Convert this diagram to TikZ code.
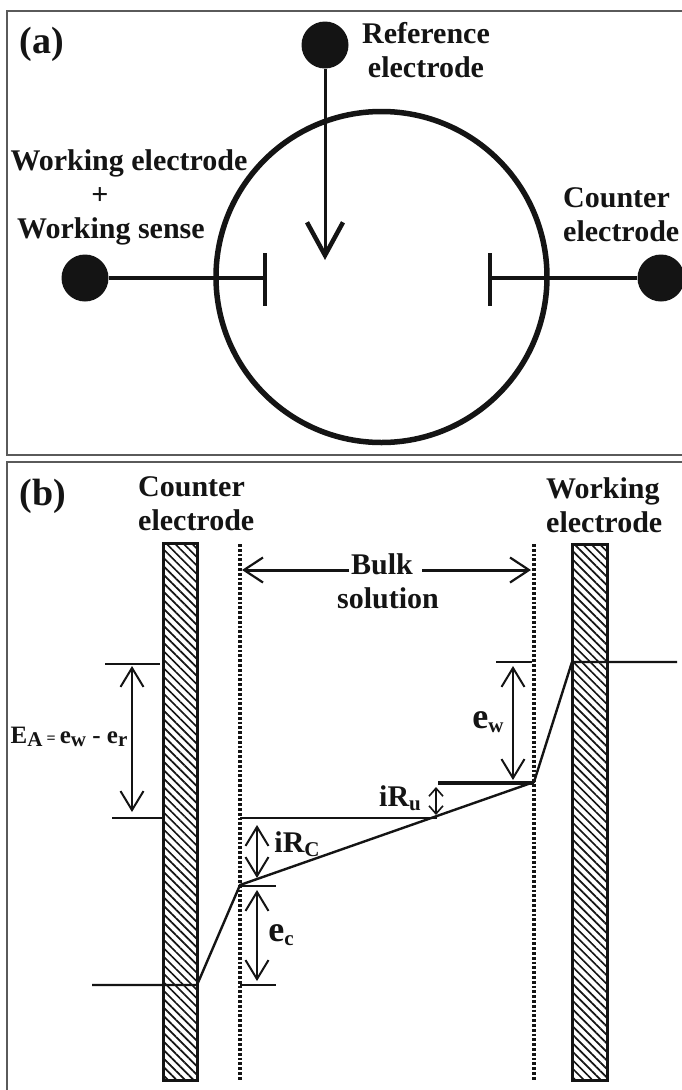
\documentclass[tikz,border=0pt]{standalone}
\usepackage{fontspec}
\setmainfont{Liberation Serif}
\usetikzlibrary{arrows.meta,patterns.meta}
\definecolor{inkblack}{RGB}{20,20,20}
\definecolor{framegray}{RGB}{90,90,90}
\newcommand{\lowtxt}[1]{\raisebox{-0.12em}{\fontsize{21}{21}\selectfont #1}}

\begin{document}
\begin{tikzpicture}[x=1pt, y=-1pt, inkblack,
    label/.style={font=\fontsize{30}{34}\selectfont\bfseries, align=center, inner sep=0pt},
    dot/.style={circle, fill=inkblack, draw=none, minimum size=47pt, inner sep=0pt},
    bigbarb/.style={-{Straight Barb[length=33pt, width=36pt, line width=4.5pt]}, line width=3pt},
    levelbar/.style={line width=2.8pt},
    dimarrow/.style={{Straight Barb[length=19pt, width=23pt, line width=2pt]}-{Straight Barb[length=19pt, width=23pt, line width=2pt]}, line width=1.8pt},
    bulkarrow/.style={-{Straight Barb[length=19pt, width=25pt, line width=2.2pt]}, line width=3pt},
    wall/.style={draw=inkblack, line width=3pt, pattern={Lines[angle=-45, distance=6pt, line width=1.7pt]}, pattern color=inkblack},
    bulkline/.style={line width=3.6pt, dash pattern=on 2.8pt off 2pt}]
  \useasboundingbox (0,0) rectangle (682,1090);
  \fill[white] (0,0) rectangle (682,1090);

  % Panel frames
  \draw[framegray, line width=1.2pt] (682,11) -- (7,11) -- (7,455) -- (682,455);
  \draw[framegray, line width=1.2pt] (682,462) -- (7,462) -- (7,1090);

  % (a) cell
  \node[label, font=\fontsize{38}{38}\selectfont\bfseries] (tagA) at (42,44) {(a)};
  \node[circle, draw, line width=5.5pt, minimum size=331pt, inner sep=0pt] (cell) at (381.5,277) {};
  \node[dot] (refdot) at (325,45) {};
  \node[dot] (workdot) at (85,278) {};
  \node[dot] (countdot) at (661,278) {};
  \coordinate (reftip) at (325,260);
  \coordinate (workend) at (265,278);
  \coordinate (countend) at (490,278);
  \draw[bigbarb] (refdot) -- (reftip);
  \draw[line width=3.6pt] (workdot) -- (workend);
  \draw[line width=3.6pt] (countdot) -- (countend);
  \draw[line width=3.4pt] (265,253) -- (265,306);
  \draw[line width=3.4pt] (490,253) -- (490,306);
  \node[label] (reflabel) at (426,50) {Reference\\electrode};
  \node[label] (worklabel) at (129,163) {Working electrode};
  \node[label] (pluslabel) at (100,196) {+};
  \node[label] (senselabel) at (111,231) {Working sense};
  \node[label, anchor=west, align=left] (countlabel) at (563,215) {Counter\\electrode};

  % (b) electrodes
  \node[label, font=\fontsize{38}{38}\selectfont\bfseries] (tagB) at (43,496) {(b)};
  \node[label, anchor=west, align=left] (countB) at (138,504) {Counter\\electrode};
  \node[label, anchor=west, align=left] (workB) at (546,505) {Working\\electrode};
  \path[wall] (163,543) rectangle (197,1080);
  \path[wall] (572,544) rectangle (607,1080);

  % Bulk solution boundaries
  \draw[bulkline] (240,544) -- (240,1080);
  \draw[bulkline] (534,544) -- (534,1080);
  \node[label] (bulk) at (382,564) {Bulk};
  \node[label] (solution) at (388,598) {solution};
  \coordinate (bulkL) at (242,570);
  \coordinate (bulkR) at (531,570);
  \coordinate (bulkLs) at (349,570);
  \coordinate (bulkRs) at (422,570);
  \draw[bulkarrow] (bulkLs) -- (bulkL);
  \draw[bulkarrow] (bulkRs) -- (bulkR);

  % Potential profile
  \coordinate (profA) at (92,985);
  \coordinate (profB) at (197,985);
  \coordinate (profC) at (240,885);
  \coordinate (profD) at (534,782);
  \coordinate (profE) at (572,662);
  \coordinate (profF) at (677,662);
  \draw[line width=2.4pt, line join=round] (profA) -- (profB) -- (profC) -- (profD) -- (profE) -- (profF);

  % Levels
  \draw[levelbar] (105,664) -- (160,664);
  \draw[levelbar] (112,818) -- (163,818);
  \draw[levelbar] (240,818) -- (437,818);
  \draw[levelbar] (240,886) -- (276,886);
  \draw[levelbar] (240,985) -- (276,985);
  \draw[line width=3.4pt] (438,783) -- (534,783);
  \draw[levelbar] (496,662) -- (532,662);

  % Annotations
  \draw[dimarrow] (132,666) -- (132,812);
  \node[label, font=\fontsize{25}{25}\selectfont\bfseries] (EA) at (69,737) {E\lowtxt{A}\,{\fontsize{16}{16}\selectfont =}\,e\lowtxt{w} - e\lowtxt{r}};
  \draw[dimarrow] (513,666) -- (513,780);
  \node[label, font=\fontsize{36}{36}\selectfont\bfseries] (ew) at (488,722) {e\lowtxt{w}};
  \draw[{Straight Barb[length=8pt, width=14pt, line width=1.6pt]}-{Straight Barb[length=8pt, width=14pt, line width=1.6pt]}, line width=1.6pt] (436,787) -- (436,815);
  \node[label] (iRu) at (400,798) {iR\lowtxt{u}};
  \draw[dimarrow] (257,825) -- (257,878);
  \node[label] (iRc) at (297,844) {iR\lowtxt{C}};
  \draw[dimarrow] (257,890) -- (257,981);
  \node[label, font=\fontsize{36}{36}\selectfont\bfseries] (ec) at (281,935) {e\lowtxt{c}};
\end{tikzpicture}
\end{document}
